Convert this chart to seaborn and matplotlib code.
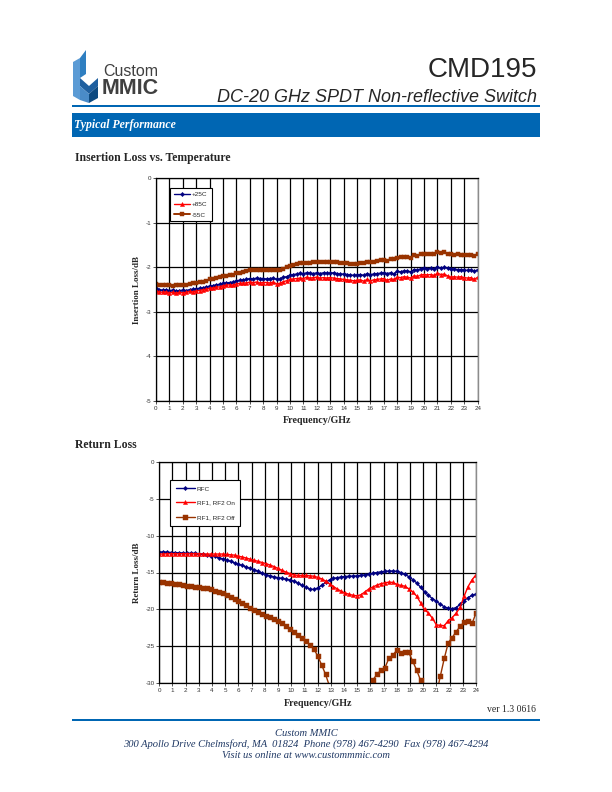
import numpy as np
import matplotlib
matplotlib.use("Agg")
import matplotlib.pyplot as plt
from matplotlib.patches import Polygon, Rectangle
import seaborn as sns

# Insertion loss vs temperature, 0-24 GHz in 0.25 GHz steps
il_freq = np.arange(0, 24.01, 0.25)
il_25c = [
    -2.47, -2.50, -2.51, -2.50, -2.52,
    -2.51, -2.53, -2.52, -2.51, -2.52, -2.50, -2.49, -2.48,
    -2.47, -2.46, -2.44, -2.42, -2.41, -2.39, -2.38, -2.36,
    -2.35, -2.34, -2.33, -2.30, -2.29, -2.28, -2.27, -2.25,
    -2.26, -2.24, -2.25, -2.25, -2.26, -2.25, -2.24, -2.27,
    -2.26, -2.22, -2.21, -2.18, -2.16, -2.15, -2.13, -2.14,
    -2.12, -2.13, -2.14, -2.12, -2.14, -2.12, -2.13, -2.13,
    -2.12, -2.14, -2.15, -2.15, -2.16, -2.17, -2.18, -2.17,
    -2.16, -2.18, -2.14, -2.16, -2.15, -2.14, -2.13, -2.12,
    -2.14, -2.12, -2.15, -2.09, -2.10, -2.08, -2.08, -2.10,
    -2.05, -2.06, -2.03, -2.02, -2.03, -2.02, -2.04, -1.99,
    -2.02, -2.00, -2.01, -2.04, -2.04, -2.05, -2.05, -2.06,
    -2.07, -2.06, -2.09, -2.05,
]
il_85c = [
    -2.52, -2.55, -2.56, -2.55, -2.57,
    -2.56, -2.58, -2.56, -2.57, -2.56, -2.54, -2.55, -2.53,
    -2.52, -2.50, -2.49, -2.47, -2.46, -2.44, -2.44, -2.41,
    -2.40, -2.39, -2.40, -2.37, -2.36, -2.35, -2.35, -2.33,
    -2.34, -2.33, -2.35, -2.34, -2.34, -2.35, -2.33, -2.37,
    -2.36, -2.32, -2.30, -2.27, -2.26, -2.25, -2.24, -2.25,
    -2.22, -2.24, -2.23, -2.22, -2.24, -2.23, -2.24, -2.23,
    -2.24, -2.25, -2.26, -2.27, -2.28, -2.29, -2.30, -2.29,
    -2.28, -2.31, -2.27, -2.30, -2.28, -2.27, -2.26, -2.25,
    -2.29, -2.26, -2.27, -2.22, -2.23, -2.21, -2.22, -2.24,
    -2.19, -2.20, -2.17, -2.16, -2.17, -2.16, -2.18, -2.13,
    -2.16, -2.15, -2.19, -2.22, -2.21, -2.22, -2.21, -2.23,
    -2.24, -2.23, -2.27, -2.22,
]
il_m55c = [
    -2.37, -2.39, -2.40, -2.40, -2.40,
    -2.41, -2.39, -2.40, -2.40, -2.40, -2.37, -2.36, -2.34,
    -2.33, -2.33, -2.30, -2.27, -2.26, -2.24, -2.22, -2.20,
    -2.19, -2.17, -2.16, -2.13, -2.12, -2.10, -2.09, -2.07,
    -2.07, -2.06, -2.07, -2.05, -2.06, -2.05, -2.06, -2.07,
    -2.06, -2.03, -1.99, -1.96, -1.95, -1.93, -1.91, -1.91,
    -1.90, -1.90, -1.89, -1.89, -1.89, -1.88, -1.88, -1.89,
    -1.88, -1.89, -1.90, -1.90, -1.91, -1.92, -1.93, -1.92,
    -1.90, -1.91, -1.87, -1.89, -1.87, -1.85, -1.83, -1.83,
    -1.85, -1.81, -1.82, -1.78, -1.77, -1.76, -1.77, -1.78,
    -1.73, -1.74, -1.70, -1.69, -1.69, -1.70, -1.71, -1.66,
    -1.68, -1.66, -1.70, -1.69, -1.72, -1.71, -1.72, -1.73,
    -1.72, -1.72, -1.75, -1.69,
]
il_labels = ["+25C", "+85C", "-55C"]

# Return loss, 0-24 GHz in 0.3 GHz steps
rl_freq = np.linspace(0, 24, 81)
rl_rfc = [
    -12.25, -12.2, -12.25, -12.3, -12.3, -12.35, -12.35, -12.4, -12.4, -12.4,
    -12.45, -12.5, -12.6, -12.7, -12.8, -13.0, -13.15, -13.3, -13.5, -13.7,
    -13.9, -14.05, -14.25, -14.45, -14.6, -14.85, -15.1, -15.3, -15.45, -15.6,
    -15.7, -15.8, -15.9, -16.0, -16.2, -16.4, -16.75, -17.0, -17.25, -17.3,
    -17.1, -16.75, -16.35, -16.0, -15.8, -15.7, -15.6, -15.55, -15.5, -15.5,
    -15.45, -15.4, -15.3, -15.2, -15.1, -15.0, -14.9, -14.85, -14.8, -14.8,
    -14.85, -15.0, -15.25, -15.55, -15.95, -16.4, -17.0, -17.6, -18.1, -18.55,
    -18.9, -19.3, -19.65, -19.85, -19.9, -19.75, -19.3, -18.8, -18.4, -18.1,
    -17.9,
]
rl_on = [
    -12.5, -12.5, -12.45, -12.45, -12.45, -12.45, -12.45, -12.45, -12.45, -12.45,
    -12.45, -12.5, -12.5, -12.5, -12.5, -12.5, -12.5, -12.55, -12.6, -12.65,
    -12.8, -12.9, -13.05, -13.2, -13.35, -13.5, -13.65, -13.8, -14.0, -14.2,
    -14.45, -14.7, -14.95, -15.15, -15.3, -15.4, -15.4, -15.4, -15.45, -15.5,
    -15.65, -15.85, -16.15, -16.55, -16.9, -17.25, -17.55, -17.8, -17.95, -18.1,
    -18.15, -18.0, -17.6, -17.2, -16.95, -16.7, -16.5, -16.4, -16.3, -16.35,
    -16.6, -16.75, -16.85, -17.2, -17.6, -18.2, -19.1, -20.0, -20.5, -21.2,
    -22.1, -22.15, -22.2, -21.5, -21.1, -20.5, -19.7, -18.2, -16.9, -16.0,
    -15.3,
]
rl_off = [
    -16.35, -16.35, -16.4, -16.45, -16.55, -16.6, -16.7, -16.8, -16.85, -16.9,
    -17.0, -17.05, -17.15, -17.3, -17.45, -17.6, -17.8, -18.05, -18.3, -18.55,
    -18.85, -19.15, -19.45, -19.75, -20.05, -20.35, -20.6, -20.85, -21.05, -21.3,
    -21.55, -21.9, -22.25, -22.6, -23.0, -23.45, -23.85, -24.3, -24.75, -25.3,
    -26.3, -27.5, -28.8, -30.4, -32.0, -33.5, -34.5, -35.2, -35.5, -35.3,
    -34.6, -33.5, -32.2, -30.8, -29.5, -28.8, -28.2, -27.9, -26.6, -26.2,
    -25.5, -25.9, -25.8, -25.8, -27.0, -28.2, -29.6, -31.0, -32.5, -33.2,
    -31.5, -29.0, -26.6, -24.5, -23.8, -23.0, -22.3, -21.7, -21.6, -21.9,
    -20.5,
]
rl_labels = ["RFC", "RF1, RF2 On", "RF1, RF2 Off"]

NAVY = "#000080"
RED = "#ff0000"
BROWN = "#993300"
BLUE = "#0066b3"

sns.set_style("white")
plt.rcParams["font.family"] = ["Liberation Sans", "DejaVu Sans"]
plt.rcParams["axes.unicode_minus"] = False
SERIF = ["Liberation Serif", "DejaVu Serif"]

W, H = 612, 792
fig = plt.figure(figsize=(W / 100, H / 100), dpi=100)

# page layer in pixel coordinates
bg = fig.add_axes([0, 0, 1, 1])
bg.set_xlim(0, W)
bg.set_ylim(H, 0)
bg.axis("off")

# logo
logo = [
    ([(73, 62), (80, 58), (80, 100), (73, 96)], "#5b9bd5"),
    ([(80, 58), (86, 50), (86, 74), (80, 78)], "#2f7fc1"),
    ([(80, 78), (89, 86), (98, 78), (98, 86), (89, 94), (80, 86)], "#1f5f9f"),
    ([(89, 94), (98, 86), (98, 98), (89, 103)], "#0e4a80"),
    ([(80, 86), (89, 94), (89, 103), (80, 100)], "#4a8bc8"),
]
for pts, c in logo:
    bg.add_patch(Polygon(pts, closed=True, color=c, lw=0))
bg.text(103, 76, "Custom", fontsize=11.5, color="#404040", va="baseline")
bg.text(102, 94, "MMIC", fontsize=15.5, weight="bold", color="#404040", va="baseline")

bg.text(537, 77, "CMD195", fontsize=20, ha="right", va="baseline")
bg.text(537, 102.5, "DC-20 GHz SPDT Non-reflective Switch", fontsize=13,
        style="italic", ha="right", va="baseline")
bg.add_patch(Rectangle((72, 104.8), 468, 2, color=BLUE, lw=0))
bg.add_patch(Rectangle((72, 112.5), 468, 24, color=BLUE, lw=0))
bg.text(74, 125, "Typical Performance", fontsize=8.5, family=SERIF,
        weight="bold", style="italic", color="white", va="center")

bg.text(75, 158, "Insertion Loss vs. Temperature", fontsize=8.5, family=SERIF,
        weight="bold", va="center")
bg.text(75, 445, "Return Loss", fontsize=8.5, family=SERIF, weight="bold", va="center")

bg.text(536, 710, "ver 1.3 0616", fontsize=7, family=SERIF, ha="right", va="center")
bg.add_patch(Rectangle((72, 719), 468, 2, color=BLUE, lw=0))
FOOT = "#1f3864"
bg.text(306, 733, "Custom MMIC", fontsize=7.6, family=SERIF, style="italic",
        color=FOOT, ha="center", va="center")
bg.text(306, 744.5, "300 Apollo Drive Chelmsford, MA  01824  Phone (978) 467-4290  Fax (978) 467-4294",
        fontsize=7.6, family=SERIF, style="italic", color=FOOT, ha="center", va="center")
bg.text(306, 756, "Visit us online at www.custommmic.com", fontsize=7.6, family=SERIF,
        style="italic", color=FOOT, ha="center", va="center")


def frame(ax, ymin, ystep):
    ax.set_xlim(0, 24)
    ax.set_ylim(ymin, 0)
    ax.set_xticks(range(0, 25))
    ax.set_yticks(np.arange(ymin, 0.1, ystep))
    ax.set_yticklabels([f"{int(v)}" for v in np.arange(ymin, 0.1, ystep)])
    ax.grid(True, color="black", lw=0.9)
    ax.set_axisbelow(True)
    for s in ["left", "bottom", "top"]:
        ax.spines[s].set_color("black")
        ax.spines[s].set_linewidth(0.9)
    ax.spines["right"].set_color("#8c8c8c")
    ax.spines["right"].set_linewidth(1.0)
    ax.tick_params(direction="out", length=2, width=0.6, labelsize=4.5,
                   colors="#333333", pad=1.5, left=True, bottom=True)
    ax.set_xlabel("")
    ax.set_ylabel("")


def px_axes(x0, y0, x1, y1):
    return fig.add_axes([x0 / W, 1 - y1 / H, (x1 - x0) / W, (y1 - y0) / H])


# chart 1: insertion loss
ax1 = px_axes(156, 178.3, 477.7, 401)
styles = [(NAVY, "D", 2.2), (RED, "^", 3.0), (BROWN, "s", 3.4)]
for vals, lab, (c, m, ms) in zip([il_25c, il_85c, il_m55c], il_labels, styles):
    sns.lineplot(x=il_freq, y=vals, ax=ax1, color=c, marker=m, markersize=ms,
                 markeredgewidth=0.3, markeredgecolor=c,
                 linewidth=1.4 if c == BROWN else 1.0, label=lab)
frame(ax1, -5, 1)
leg = ax1.legend(loc="upper left", bbox_to_anchor=(0.033, 0.972), fontsize=4.6,
                 frameon=True, fancybox=False, edgecolor="black", framealpha=1,
                 handlelength=2.6, labelspacing=0.75, borderpad=0.6, handletextpad=0.3)
leg.get_frame().set_linewidth(0.8)
bg.text(137, 289.7, "Insertion Loss/dB", fontsize=6.5, family=SERIF, weight="bold",
        rotation=90, ha="center", va="center")
bg.text(316.8, 420.5, "Frequency/GHz", fontsize=7.2, family=SERIF, weight="bold",
        ha="center", va="center")

# chart 2: return loss
ax2 = px_axes(159.3, 461.7, 476, 683.3)
styles2 = [(NAVY, "D", 2.2), (RED, "^", 3.0), (BROWN, "s", 3.6)]
for vals, lab, (c, m, ms) in zip([rl_rfc, rl_on, rl_off], rl_labels, styles2):
    sns.lineplot(x=rl_freq, y=vals, ax=ax2, color=c, marker=m, markersize=ms,
                 markeredgewidth=0.3, markeredgecolor=c, linewidth=1.0, label=lab)
frame(ax2, -30, 5)
leg = ax2.legend(loc="upper left", bbox_to_anchor=(0.023, 0.93), fontsize=4.6,
                 frameon=True, fancybox=False, edgecolor="black", framealpha=1,
                 handlelength=3.0, labelspacing=1.35, borderpad=0.9, handletextpad=0.3)
leg.get_frame().set_linewidth(0.8)
bg.text(137, 572.5, "Return Loss/dB", fontsize=6.5, family=SERIF, weight="bold",
        rotation=90, ha="center", va="center")
bg.text(317.6, 703.5, "Frequency/GHz", fontsize=7.2, family=SERIF, weight="bold",
        ha="center", va="center")

fig.savefig("out.png", dpi=100)
